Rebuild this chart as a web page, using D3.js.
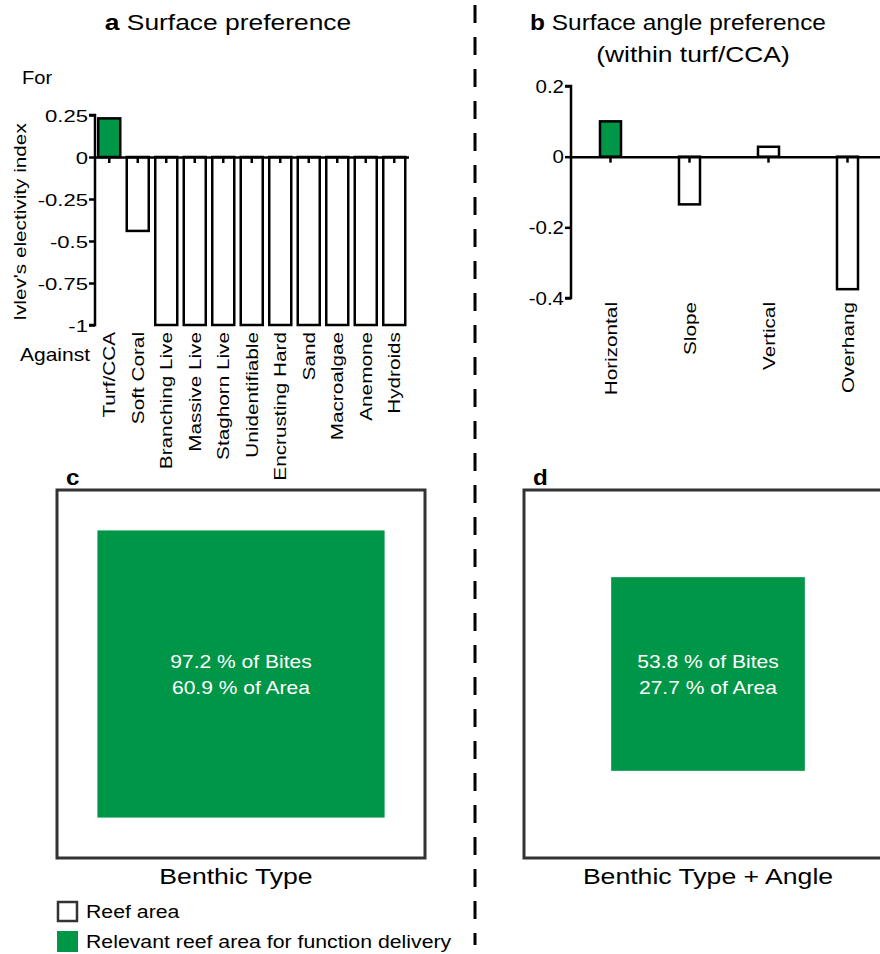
<!DOCTYPE html>
<html><head><meta charset="utf-8">
<script src="https://cdn.jsdelivr.net/npm/d3@7"></script>
<style>body{margin:0;background:#fff}text{font-family:Arial,"Liberation Sans",sans-serif}</style>
</head><body>
<svg id="c" width="880" height="954"></svg>
<script>
const surfaceCats = ["Turf/CCA","Soft Coral","Branching Live","Massive Live","Staghorn Live","Unidentifiable","Encrusting Hard","Sand","Macroalgae","Anemone","Hydroids"];
const surfaceVals = [0.23,-0.44,-1,-1,-1,-1,-1,-1,-1,-1,-1];
const surfaceTicks = [0.25,0,-0.25,-0.5,-0.75,-1];
const angleCats = ["Horizontal","Slope","Vertical","Overhang"];
const angleVals = [0.1,-0.135,0.028,-0.375];
const angleTicks = [0.2,0,-0.2,-0.4];
const areaPanels = ["c","d"];
const areaBites = [97.2,53.8];
const areaPct = [60.9,27.7];
const areaTitles = ["Benthic Type","Benthic Type + Angle"];
const legendLabels = ["Reef area","Relevant reef area for function delivery"];

const GREEN = "#009647";
const svg = d3.select("#c");

// text helper: glyphs are stretched along the baseline like in the reference
function txt(parent, x, y, segs, o){
  o = Object.assign({size:17, sx:1.2, anchor:"start", rot:0, fill:"#000"}, o||{});
  const t = parent.append("text")
    .attr("transform",`translate(${x},${y}) rotate(${o.rot}) scale(${o.sx},1)`)
    .attr("text-anchor",o.anchor).attr("font-size",o.size).attr("fill",o.fill);
  (Array.isArray(segs)?segs:[[segs,false]]).forEach(([s,b])=>{
    t.append("tspan").attr("font-weight",b?"bold":"normal").text(s);
  });
  return t;
}

// divider
svg.append("line").attr("x1",475).attr("x2",475).attr("y1",5).attr("y2",945)
  .attr("stroke","#000").attr("stroke-width",3).attr("stroke-dasharray","18,14");

function barPanel(cats, vals, ticks, x0, x1, pad, yDomain, yRange, fmt, highlightIdx, tickFont){
  const g = svg.append("g");
  const x = d3.scaleBand().domain(cats).range([x0,x1]).paddingInner(pad).paddingOuter(pad/2);
  const y = d3.scaleLinear().domain(yDomain).range(yRange);
  g.selectAll("rect.bar").data(cats).join("rect")
    .attr("x",d=>x(d)).attr("width",x.bandwidth())
    .attr("y",(d,i)=>Math.min(y(vals[i]),y(0)))
    .attr("height",(d,i)=>Math.abs(y(vals[i])-y(0)))
    .attr("fill",(d,i)=>i===highlightIdx?GREEN:"#fff")
    .attr("stroke","#000").attr("stroke-width",2.5);
  const ya = d3.axisLeft(y).tickValues(ticks).tickFormat(fmt).tickSize(6);
  const yg = g.append("g").attr("transform",`translate(${x0},0)`).call(ya);
  yg.select(".domain").attr("stroke-width",2.5).attr("d",`M-6,${yRange[1]}H0V${yRange[0]}H-6`);
  yg.selectAll(".tick line").attr("stroke-width",2.5);
  yg.selectAll(".tick text").attr("x",null).attr("dy","0.36em")
    .attr("transform",`translate(-7,0) scale(${tickFont.sx},1)`)
    .attr("font-size",tickFont.size).attr("fill","#000").attr("text-anchor","end");
  const xa = d3.axisBottom(x).tickSize(6).tickSizeOuter(0).tickFormat("");
  const xg = g.append("g").attr("transform",`translate(0,${y(0)})`).call(xa);
  xg.select(".domain").attr("stroke-width",2.5);
  xg.selectAll(".tick line").attr("stroke-width",2.5);
  return {g,x,y};
}

// Panel a
const pa = barPanel(surfaceCats, surfaceVals, surfaceTicks, 95, 408.5, 0.228, [-1,0.25],[325,115],
  d=>d===0?"0":String(d), 0, {size:17, sx:1.3});
surfaceCats.forEach(d=>{
  txt(pa.g, pa.x(d)+pa.x.bandwidth()/2+6, 332, d, {size:17, sx:1.22, anchor:"end", rot:-90});
});
txt(svg, 22, 84, "For", {size:17.5, sx:1.15});
txt(svg, 20, 361, "Against", {size:17.5, sx:1.2});
txt(svg, 26, 222, "Ivlev's electivity index", {size:17, sx:1.22, anchor:"middle", rot:-90});
txt(svg, 228, 30, [["a",true],[" Surface preference",false]], {size:22, sx:1.2, anchor:"middle"});

// Panel b
const pb = barPanel(angleCats, angleVals, angleTicks, 571, 887, 0.734, [-0.4,0.2],[298,86],
  d=>d===0?"0":String(d), 0, {size:17.5, sx:1.17});
angleCats.forEach(d=>{
  txt(pb.g, pb.x(d)+pb.x.bandwidth()/2+6, 302, d, {size:17, sx:1.22, anchor:"end", rot:-90});
});
txt(svg, 678, 30, [["b",true],[" Surface angle preference",false]], {size:22, sx:1.11, anchor:"middle"});
txt(svg, 693, 62, "(within turf/CCA)", {size:22, sx:1.2, anchor:"middle"});

// Panels c, d
const boxSide = 368;
const side = d3.scaleSqrt().domain([0,100]).range([0,boxSide]);
const boxX = [57,524];
const titleShift = [-5,0];
areaPanels.forEach((p,i)=>{
  const bx = boxX[i], by = 490;
  const cx = bx+boxSide/2, cy = by+boxSide/2;
  svg.append("rect").attr("x",bx).attr("y",by).attr("width",boxSide).attr("height",boxSide)
    .attr("fill","#fff").attr("stroke","#333").attr("stroke-width",3);
  const s = side(areaPct[i]);
  svg.append("rect").attr("x",cx-s/2).attr("y",cy-s/2).attr("width",s).attr("height",s).attr("fill",GREEN);
  txt(svg, cx, 668, `${areaBites[i]} % of Bites`, {size:18, sx:1.17, anchor:"middle", fill:"#fff"});
  txt(svg, cx, 694, `${areaPct[i]} % of Area`, {size:18, sx:1.17, anchor:"middle", fill:"#fff"});
  txt(svg, bx+9, 485, [[p,true]], {size:22, sx:1.1});
  txt(svg, cx+titleShift[i], 884, areaTitles[i], {size:22, sx:1.21, anchor:"middle"});
});

// legend
svg.append("rect").attr("x",58).attr("y",902).attr("width",19).attr("height",19).attr("fill","#fff").attr("stroke","#333").attr("stroke-width",2.5);
svg.append("rect").attr("x",57).attr("y",931).attr("width",21).attr("height",21).attr("fill",GREEN);
legendLabels.forEach((t,i)=>{
  txt(svg, 86, 918+i*30, t, {size:18.5, sx:1.15});
});
</script>
</body></html>
